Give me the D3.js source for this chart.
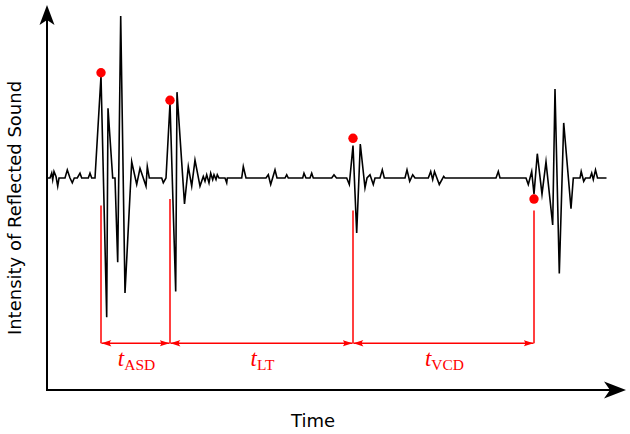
<!DOCTYPE html>
<html>
<head>
<meta charset="utf-8">
<script src="https://cdn.jsdelivr.net/npm/d3@7"></script>
<style>
  html, body { margin: 0; padding: 0; background: #fff; }
  .chart { width: 630px; height: 434px; }
</style>
</head>
<body>
<div class="chart"></div>
<script>
// waveform samples (time in arbitrary units, amplitude normalised to the largest peak)
const wave_t = [0, 3, 4.7, 5.7, 7, 9, 10.7, 12, 18, 20.3, 23, 25.3, 27.3, 30.3, 33, 34.7, 41.3, 43, 44.7, 48,
  54, 59.7, 61, 65.7, 68, 70.7, 73.7, 78, 84.7, 89.7, 93, 99, 100.3, 102.3, 114.7, 116.3, 119,
  123, 128.7, 130, 137.5, 141.3, 144.7, 148, 153, 156.3, 158, 159.7, 162, 163.7, 165.7, 167, 169, 170.3, 172,
  178, 179.7, 180.3, 194.7, 196.3, 199, 219, 221.3, 223.7, 228, 230, 238, 239.7, 241.3, 255.7, 257, 259,
  263, 264.7, 266.3, 284.7, 287, 289.5, 299.7, 302.3,
  306, 309.7, 313.3, 318, 320, 323, 326.3, 328, 333, 335.3, 337.3, 358, 360, 362.7, 365.7, 368,
  381.3, 383.7, 385.7, 387.5, 392.3, 396.7, 398, 449, 451.3, 453, 479, 481.3, 484.7,
  487, 490.3, 495, 499, 505.7, 508, 512.3, 516.7, 524, 526.3, 533, 534.2, 536.7, 538.5, 543, 544.7,
  546.3, 548.5, 550.5, 559.5];
const wave_a = [0, 0, 0.03, -0.01, 0.04, 0.01, -0.05, 0, 0, 0.05, 0, -0.03, 0, 0, 0.03, 0, 0, 0.03, 0, 0,
  0.63, -0.86, 0.43, 0, 0, -0.52, 1.0, -0.71, 0.10, -0.04, 0.06, -0.05, 0.07, 0, 0, -0.03, 0,
  0.46, -0.70, 0.53, -0.16, 0.07, -0.05, 0.11, -0.05, 0.01, -0.02, 0.02, -0.03, 0.03, -0.01, 0.02, -0.01, 0.02, 0,
  0, -0.03, 0, 0, 0.07, 0, 0, 0.02, -0.04, 0.05, 0, 0, 0.02, 0, 0, 0.03, 0,
  0, 0.03, 0, 0, 0.02, 0, 0, -0.04,
  0.20, -0.34, 0.21, -0.06, 0, 0.02, -0.04, 0, 0, 0.05, 0, 0, 0.05, -0.02, 0.02, 0,
  0, 0.04, -0.01, 0.04, -0.04, 0.01, 0, 0, 0.04, 0, 0, -0.04, 0.04,
  -0.10, 0.15, -0.10, 0.10, -0.29, 0.55, -0.59, 0.34, -0.19, 0, 0, 0.04, -0.02, 0, 0, 0.03,
  -0.01, 0.05, 0, 0];

// echoes picked on the waveform
const echo_t = [54, 123, 306, 487];
const echo_a = [0.65, 0.48, 0.245, -0.13];
const marker_top = [-0.17, -0.13, -0.20, -0.20];

// intervals between echoes
const interval_names = ['ASD', 'LT', 'VCD'];

const x_label = 'Time';
const y_label = 'Intensity of Reflected Sound';

const W = 630, H = 434;
const axis_x = 47, axis_y = 390;
const dim_level = -1.02;   // amplitude level of the dimension arrows
const label_level = -1.18; // amplitude level of the interval labels

const svg = d3.select('.chart').append('svg')
  .attr('width', W)
  .attr('height', H);

// scales
const x = d3.scaleLinear().domain([0, 578]).range([axis_x, 625]);
const y = d3.scaleLinear().domain([-1, 1]).range([178 + 162, 178 - 162]);

// arrow heads
const defs = svg.append('defs');
defs.append('marker')
  .attr('id', 'red-head')
  .attr('viewBox', '0 -5 12 10')
  .attr('refX', 11).attr('refY', 0)
  .attr('markerUnits', 'userSpaceOnUse')
  .attr('markerWidth', 11).attr('markerHeight', 9)
  .attr('orient', 'auto-start-reverse')
  .append('path')
  .attr('d', 'M11,0 L0,-3.6 Q3.5,0 0,3.6 Z')
  .attr('fill', '#ff0000');

// axes drawn as arrows
const axes = svg.append('g').attr('class', 'axes');
axes.append('line')
  .attr('x1', axis_x).attr('y1', axis_y)
  .attr('x2', axis_x).attr('y2', 14)
  .attr('stroke', '#000').attr('stroke-width', 2);
axes.append('line')
  .attr('x1', axis_x - 1).attr('y1', axis_y)
  .attr('x2', 616).attr('y2', axis_y)
  .attr('stroke', '#000').attr('stroke-width', 2);
// y arrow head (tip up)
axes.append('path')
  .attr('d', `M${axis_x},5 L${axis_x + 7.5},25 L${axis_x},20 L${axis_x - 7.5},25 Z`)
  .attr('fill', '#000');
// x arrow head (tip right)
axes.append('path')
  .attr('d', `M626,${axis_y} L604,${axis_y + 8.5} L610,${axis_y} L604,${axis_y - 8.5} Z`)
  .attr('fill', '#000');

// waveform
const line = d3.line()
  .x(d => x(d[0]))
  .y(d => y(d[1]));

svg.append('path')
  .datum(d3.zip(wave_t, wave_a))
  .attr('d', line)
  .attr('fill', 'none')
  .attr('stroke', '#000')
  .attr('stroke-width', 1.6)
  .attr('stroke-linejoin', 'miter')
  .attr('stroke-miterlimit', 10);

// vertical red markers below each echo
svg.selectAll('.marker-line')
  .data(echo_t)
  .enter().append('line')
  .attr('class', 'marker-line')
  .attr('x1', d => x(d)).attr('x2', d => x(d))
  .attr('y1', (d, i) => y(marker_top[i]))
  .attr('y2', y(dim_level))
  .attr('stroke', '#ff0000')
  .attr('stroke-width', 1.5);

// double headed dimension arrows
const intervals = interval_names.map((name, i) => ({ name, t0: echo_t[i], t1: echo_t[i + 1] }));

svg.selectAll('.dim')
  .data(intervals)
  .enter().append('line')
  .attr('class', 'dim')
  .attr('x1', d => x(d.t0) + 0.5).attr('x2', d => x(d.t1) - 0.5)
  .attr('y1', y(dim_level)).attr('y2', y(dim_level))
  .attr('stroke', '#ff0000')
  .attr('stroke-width', 1.5)
  .attr('marker-start', 'url(#red-head)')
  .attr('marker-end', 'url(#red-head)');

const labels = svg.selectAll('.dim-label')
  .data(intervals)
  .enter().append('text')
  .attr('class', 'dim-label')
  .attr('x', d => x((d.t0 + d.t1) / 2) + 1)
  .attr('y', y(label_level) - 3)
  .attr('text-anchor', 'middle')
  .attr('fill', '#ff0000')
  .attr('font-family', '"Liberation Serif", "DejaVu Serif", serif');
labels.append('tspan')
  .attr('font-style', 'italic')
  .attr('font-size', 23)
  .text('t');
labels.append('tspan')
  .attr('font-size', 15.5)
  .attr('dy', 3.5)
  .text(d => d.name);

// red dots on the echoes
svg.selectAll('.echo')
  .data(echo_t)
  .enter().append('circle')
  .attr('class', 'echo')
  .attr('cx', d => x(d))
  .attr('cy', (d, i) => y(echo_a[i]))
  .attr('r', 4.7)
  .attr('fill', '#ff0000');

// axis titles
svg.append('text')
  .attr('x', 313).attr('y', 427)
  .attr('text-anchor', 'middle')
  .attr('font-family', '"DejaVu Sans", sans-serif')
  .attr('font-size', 18)
  .text(x_label);

svg.append('text')
  .attr('transform', 'translate(21, 208) rotate(-90)')
  .attr('text-anchor', 'middle')
  .attr('font-family', '"DejaVu Sans", sans-serif')
  .attr('font-size', 18)
  .text(y_label);
</script>
</body>
</html>
